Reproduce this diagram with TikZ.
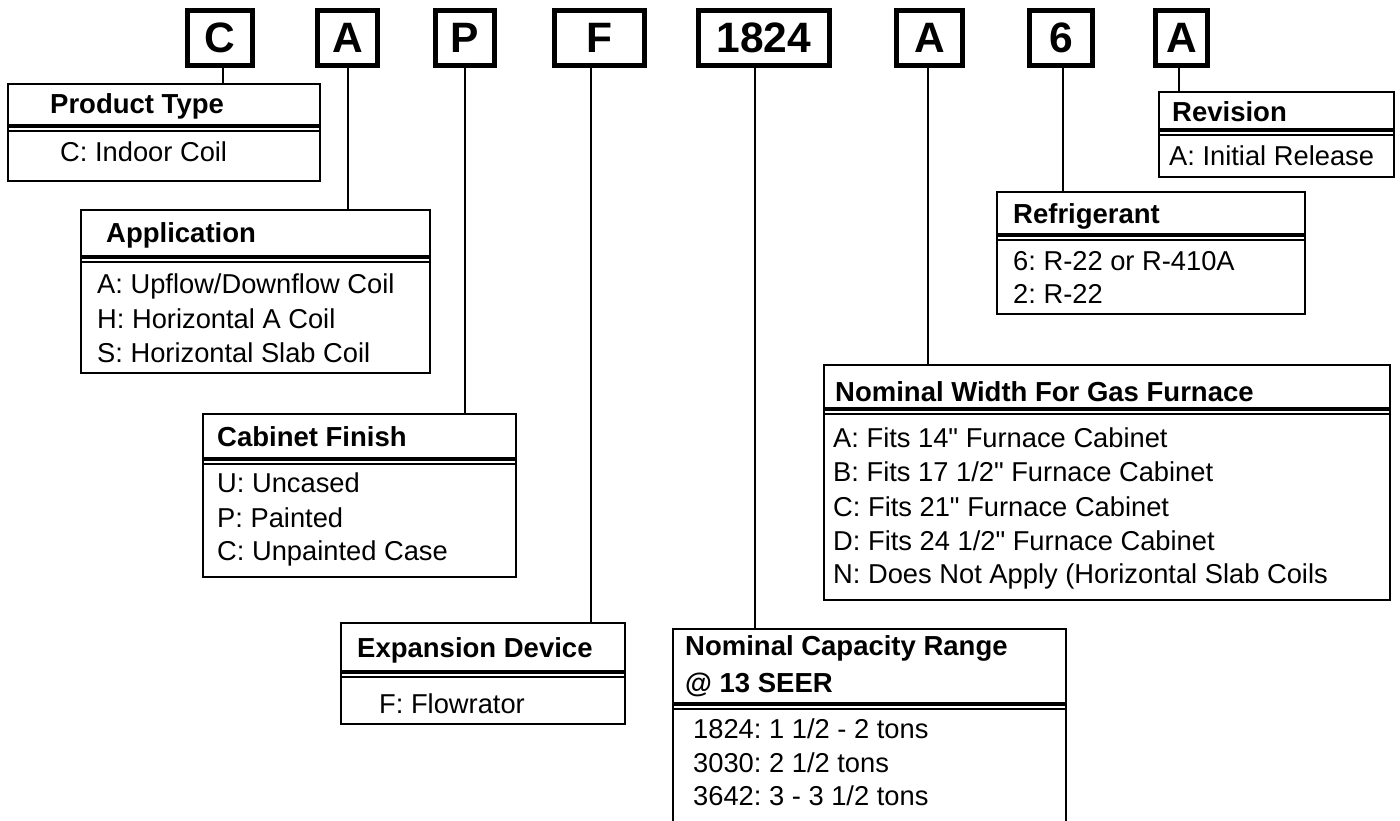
\documentclass[tikz,border=0pt]{standalone}
\usepackage{fontspec}
\setmainfont{Liberation Sans}[Ligatures=TeXOff]
\frenchspacing
\begin{document}
\begin{tikzpicture}[x=1pt,y=-1pt,
  codebox/.style={draw, line width=5pt, minimum height=55pt, inner sep=0pt,
    font=\fontsize{42.5}{50}\selectfont\bfseries, text height=30pt, text depth=0pt},
  frame/.style={draw, line width=2pt, anchor=north west, inner sep=0pt},
  head/.style={anchor=base west, inner sep=0pt, font=\fontsize{27.5}{33}\selectfont\bfseries},
  item/.style={anchor=base west, inner sep=0pt, font=\fontsize{27.3}{33}\selectfont},
  conn/.style={line width=2pt},
  thickrule/.style={line width=4pt},
  thinrule/.style={line width=2pt}]
\useasboundingbox (0,0) rectangle (1400,821);
\clip (0,0) rectangle (1400,821);
\newcommand\seprule[2]{%
  \draw[thickrule] ([yshift=-#2pt-2pt]#1.north west) -- ([yshift=-#2pt-2pt]#1.north east);
  \draw[thinrule] ([yshift=-#2pt-7pt]#1.north west) -- ([yshift=-#2pt-7pt]#1.north east);}

% code letter boxes
\node[codebox, minimum width=65pt]  (cC)  at (220,38)   {C};
\node[codebox, minimum width=60pt]  (cA)  at (347.5,38) {A};
\node[codebox, minimum width=59pt]  (cP)  at (465,38)   {P};
\node[codebox, minimum width=90pt]  (cF)  at (599.5,38) {F};
\node[codebox, minimum width=131pt] (cN)  at (764,38)   {1824};
\node[codebox, minimum width=66pt]  (cW)  at (929.5,38) {A};
\node[codebox, minimum width=63pt]  (cR)  at (1061,38)  {6};
\node[codebox, minimum width=52pt]  (cV)  at (1181.5,38){A};

% description frames
\node[frame, minimum width=312pt, minimum height=97pt]  (ptype) at (7,83) {};
\node[frame, minimum width=349pt, minimum height=163pt] (app)   at (80,209) {};
\node[frame, minimum width=313pt, minimum height=163pt] (cab)   at (202,413) {};
\node[frame, minimum width=284pt, minimum height=101pt] (exp)   at (340,622) {};
\node[frame, minimum width=393pt, minimum height=260pt] (cap)   at (672,628) {};
\node[frame, minimum width=566pt, minimum height=235pt] (nom)   at (823,364) {};
\node[frame, minimum width=308pt, minimum height=122pt] (ref)   at (996,191) {};
\node[frame, minimum width=235pt, minimum height=85pt]  (rev)   at (1158,91) {};

% separators
\seprule{ptype}{41}
\seprule{app}{46}
\seprule{cab}{44}
\seprule{exp}{48}
\seprule{cap}{74}
\seprule{nom}{43}
\seprule{ref}{42}
\seprule{rev}{37}

% connectors
\coordinate (tC) at ([xshift=3pt,yshift=5pt]cC.south);
\coordinate (tA) at ([xshift=0.5pt,yshift=5pt]cA.south);
\coordinate (tP) at ([yshift=5pt]cP.south);
\coordinate (tF) at ([xshift=-8.5pt,yshift=5pt]cF.south);
\coordinate (tN) at ([xshift=-9pt,yshift=5pt]cN.south);
\coordinate (tW) at ([xshift=-1.5pt,yshift=5pt]cW.south);
\coordinate (tR) at ([xshift=2pt,yshift=5pt]cR.south);
\coordinate (tV) at ([xshift=-2.5pt,yshift=5pt]cV.south);
\draw[conn] (tC) -- (tC |- ptype.north);
\draw[conn] (tA) -- (tA |- app.north);
\draw[conn] (tP) -- (tP |- cab.north);
\draw[conn] (tF) -- (tF |- exp.north);
\draw[conn] (tN) -- (tN |- cap.north);
\draw[conn] (tW) -- (tW |- nom.north);
\draw[conn] (tR) -- (tR |- ref.north);
\draw[conn] (tV) -- (tV |- rev.north);

% texts
\node[head] (hP) at (50,114) {Product Type};
\node[item] (iP1) at (60,162) {C: Indoor Coil};

\node[head] (hA) at (106,243) {Application};
\node[item] (iA1) at (97,293) {A: Upflow/Downflow Coil};
\node[item] (iA2) at (97,328) {H: Horizontal A Coil};
\node[item] (iA3) at (97,362) {S: Horizontal Slab Coil};

\node[head] (hC) at (217,446) {Cabinet Finish};
\node[item] (iC1) at (217,492) {U: Uncased};
\node[item] (iC2) at (217,527) {P: Painted};
\node[item] (iC3) at (217,560) {C: Unpainted Case};

\node[head] (hE) at (357,657) {Expansion Device};
\node[item] (iE1) at (379,713) {F: Flowrator};

\node[head] (hN1) at (685,655) {Nominal Capacity Range};
\node[head] (hN2) at (685,692) {@ 13 SEER};
\node[item] (iN1) at (693,738) {1824: 1 1/2 - 2 tons};
\node[item] (iN2) at (693,772) {3030: 2 1/2 tons};
\node[item] (iN3) at (693,805) {3642: 3 - 3 1/2 tons};

\node[head] (hW) at (835,401) {Nominal Width For Gas Furnace};
\node[item] (iW1) at (833,447) {A: Fits 14" Furnace Cabinet};
\node[item] (iW2) at (833,481) {B: Fits 17 1/2" Furnace Cabinet};
\node[item] (iW3) at (833,516) {C: Fits 21" Furnace Cabinet};
\node[item] (iW4) at (833,550) {D: Fits 24 1/2" Furnace Cabinet};
\node[item] (iW5) at (833,583) {N: Does Not Apply (Horizontal Slab Coils};

\node[head] (hR) at (1013,224) {Refrigerant};
\node[item] (iR1) at (1013,270) {6: R-22 or R-410A};
\node[item] (iR2) at (1013,303) {2: R-22};

\node[head] (hV) at (1172,122) {Revision};
\node[item] (iV1) at (1169,166) {A: Initial Release};
\end{tikzpicture}
\end{document}
